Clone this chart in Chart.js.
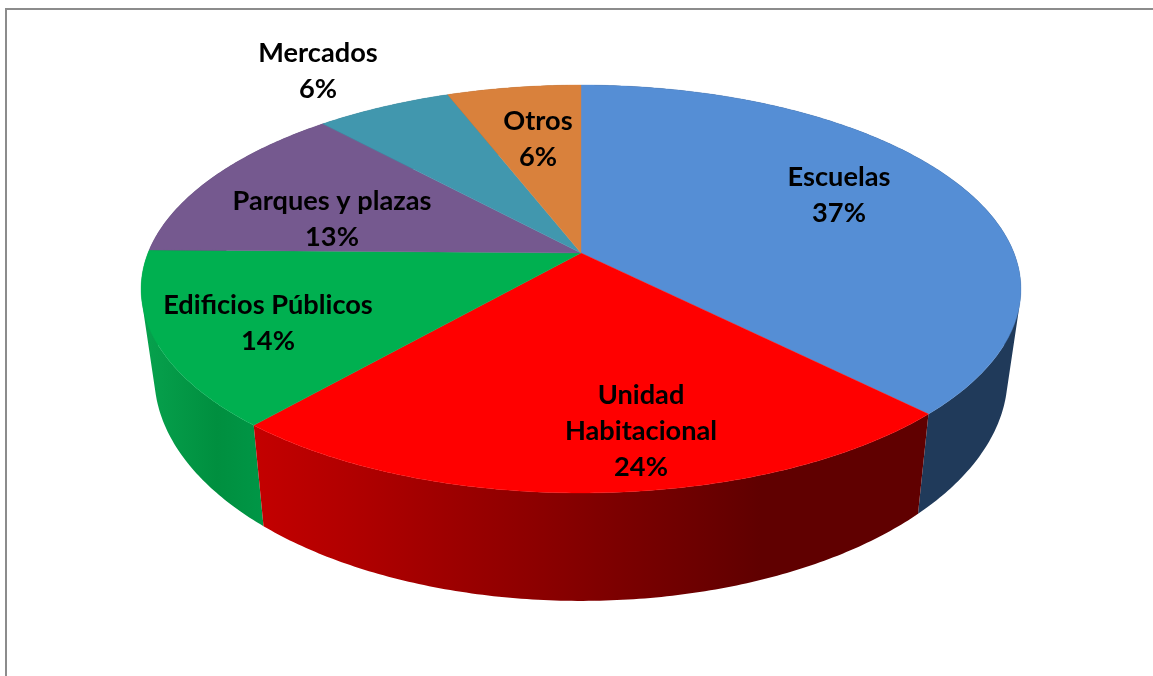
<!DOCTYPE html>
<html><head><meta charset="utf-8">
<style>html,body{margin:0;padding:0;background:#fff;overflow:hidden}canvas{display:block}</style>
<script src="https://cdn.jsdelivr.net/npm/chart.js@4/dist/chart.umd.js"></script>
</head><body>
<div style="width:1153px;height:676px"><canvas id="c" width="1153" height="676"></canvas></div>
<script>
const categories = ["Escuelas","Unidad\nHabitacional","Edificios Públicos","Parques y plazas","Mercados","Otros"];
const values = [37.4, 23.6, 13.8, 12.9, 5.9, 5.8];
const percentLabels = ["37%","24%","14%","13%","6%","6%"];
const topColors = ["#558ed5","#ff0000","#00b050","#75598f","#4197ae","#d9813c"];

// Placement of the 3D view and of the label blocks (layout only, not data)
const view = {ax:581, ay:253, rx:433, ry:197.6, p:-0.1765, bottomX:0.97, bottomY:1.104, bottomShift:83};
const labelCentres = [[839,177],[641,395],[268,305],[332,201],[318,53],[538,121]];
const lineGap = 36.3;

function projTop(a){ // a: library arc angle (radians, -PI/2 is the top)
  const u=Math.cos(a), v=Math.sin(a), w=1+view.p*v;
  return [view.rx*u/w, view.ry*v/w];
}
function ptTop(a){const q=projTop(a);return [view.ax+q[0],view.ay+q[1]];}
function ptBot(a){const q=projTop(a);return [view.ax+view.bottomX*q[0],view.ay+view.bottomShift+view.bottomY*q[1]];}

function sideStyle(ctx,i){
  const lin=(x0,x1,stops)=>{const g=ctx.createLinearGradient(x0,0,x1,0);stops.forEach(s=>g.addColorStop(s[0],s[1]));return g;};
  if(i===0) return "#203a5a";
  if(i===1) return lin(253,760,[[0,"#c40000"],[1,"#600000"]]);
  if(i===2) return lin(150,261,[[0,"#06a04c"],[0.6,"#008f3f"],[1,"#009646"]]);
  if(i===3) return "#4f3b62";
  if(i===4) return "#2b6576";
  return "#8f5525";
}

const pie3d = {
  id:"pie3d",
  beforeDraw(chart){
    const ctx=chart.ctx;
    ctx.save();
    ctx.fillStyle="#fff";ctx.fillRect(0,0,chart.width,chart.height);
    ctx.fillStyle="#8c8c8c";
    ctx.fillRect(5,8,1148,2);
    ctx.fillRect(5,8,2,668);
    ctx.restore();
  },
  beforeDatasetsDraw(chart){
    const ctx=chart.ctx, arcs=chart.getDatasetMeta(0).data;
    ctx.save();
    // side walls: quads of one orientation in a single path, so their union fills without seams
    [3,4,5,0,2,1].forEach(i=>{
      const arc=arcs[i], span=arc.endAngle-arc.startAngle;
      const n=Math.max(16,Math.ceil(span*90));
      ctx.beginPath();
      for(let k=0;k<n;k++){
        const a0=arc.startAngle+span*k/n, a1=arc.startAngle+span*(k+1)/n;
        let q=[ptTop(a0),ptTop(a1),ptBot(a1),ptBot(a0)];
        let area=0;
        q.forEach((p,j)=>{const r=q[(j+1)%4];area+=p[0]*r[1]-r[0]*p[1];});
        if(area<0) q=q.reverse();
        q.forEach((p,j)=>j?ctx.lineTo(p[0],p[1]):ctx.moveTo(p[0],p[1]));
        ctx.closePath();
      }
      ctx.fillStyle=sideStyle(ctx,i);
      ctx.fill("nonzero");
    });
    // top faces
    arcs.forEach(arc=>{
      const n=Math.max(12,Math.ceil((arc.endAngle-arc.startAngle)*90));
      ctx.beginPath();ctx.moveTo(view.ax,view.ay);
      for(let k=0;k<=n;k++){
        const p=ptTop(arc.startAngle+(arc.endAngle-arc.startAngle)*k/n);
        ctx.lineTo(p[0],p[1]);
      }
      ctx.closePath();
      ctx.fillStyle=arc.options.backgroundColor;
      ctx.strokeStyle=arc.options.backgroundColor;ctx.lineWidth=0.4;
      ctx.fill();ctx.stroke();
    });
    // labels
    ctx.fillStyle="#000";
    ctx.font='bold 27.2px Lato, "Open Sans", sans-serif';
    ctx.textAlign="center";ctx.textBaseline="middle";
    categories.forEach((name,i)=>{
      const lines=name.split("\n").concat(percentLabels[i]);
      const c=labelCentres[i];
      lines.forEach((t,j)=>ctx.fillText(t,c[0],c[1]+j*lineGap));
    });
    ctx.restore();
    return false;
  }
};

new Chart(document.getElementById("c"),{
  type:"pie",
  data:{labels:categories,datasets:[{data:values,backgroundColor:topColors,borderWidth:0}]},
  options:{responsive:false,animation:false,plugins:{legend:{display:false},tooltip:{enabled:false}}},
  plugins:[pie3d]
});
</script>
</body></html>
